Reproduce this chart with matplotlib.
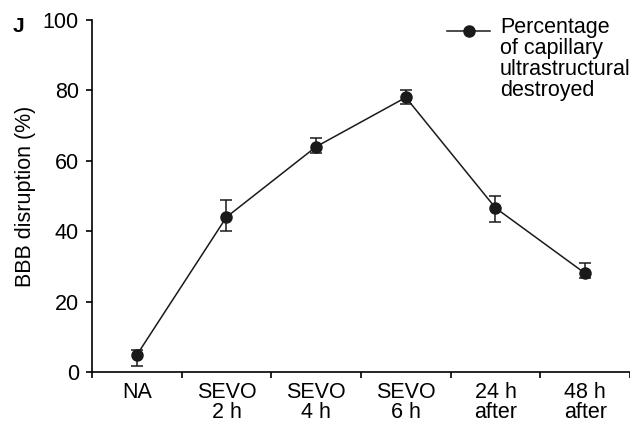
import matplotlib.pyplot as plt
import numpy as np

plt.rcParams['font.family'] = ['Liberation Sans', 'DejaVu Sans']

# data
groups = ['NA', 'SEVO\n2 h', 'SEVO\n4 h', 'SEVO\n6 h', '24 h\nafter', '48 h\nafter']
values = [4.8, 44.0, 64.0, 78.0, 46.6, 28.0]
err_low = [3.0, 4.1, 1.7, 1.9, 4.1, 1.4]
err_high = [1.5, 4.9, 2.6, 2.1, 3.4, 2.9]

fig = plt.figure(figsize=(6.3, 4.26), dpi=100)
ax = fig.add_axes([0.146, 0.127, 0.854, 0.826])

x = np.arange(len(groups)) + 0.5
ax.errorbar(x, values, yerr=[err_low, err_high], color='#1a1a1a', marker='o',
            markersize=8, linewidth=1.1, elinewidth=1.1, capsize=4.3, capthick=1.1)

ax.set_xlim(0, 6)
ax.set_ylim(0, 100)
ax.set_yticks([0, 20, 40, 60, 80, 100])
ax.set_xticks(x)
ax.set_xticklabels(groups, linespacing=0.95)
ax.set_xticks(np.arange(0, 7), minor=True)
ax.tick_params(axis='x', which='major', length=0, pad=7, labelsize=15.5)
ax.tick_params(axis='x', which='minor', length=4.5, width=1.2, direction='out')
ax.tick_params(axis='y', length=4.5, width=1.2, direction='out', labelsize=15.5, pad=5)

for s in ['top', 'right']:
    ax.spines[s].set_visible(False)
for s in ['left', 'bottom']:
    ax.spines[s].set_linewidth(1.2)

ax.set_ylabel('BBB disruption (%)', fontsize=15.5, labelpad=5)

# legend drawn by hand so the handle sits on the first text line
ax.plot([0.66, 0.74], [0.969, 0.969], transform=ax.transAxes, color='#1a1a1a',
        linewidth=1.1, clip_on=False)
ax.plot([0.70], [0.969], transform=ax.transAxes, color='#1a1a1a', marker='o',
        markersize=8, clip_on=False)
ax.text(0.758, 1.01, 'Percentage\nof capillary\nultrastructural\ndestroyed',
        transform=ax.transAxes, fontsize=15.5, va='top', ha='left', linespacing=1.0)

fig.text(0.02, 0.925, 'J', fontsize=15, fontweight='bold')

fig.savefig('out.png', dpi=100)
